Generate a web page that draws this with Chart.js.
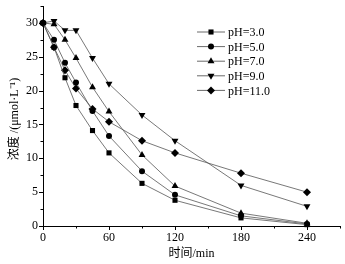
<!DOCTYPE html>
<html>
<head>
<meta charset="utf-8">
<script src="https://cdn.jsdelivr.net/npm/chart.js@4"></script>
<style>
  html, body { margin: 0; padding: 0; background: #fff; }
  #wrap { width: 345px; height: 264px; }
</style>
</head>
<body>
<div id="wrap"><canvas id="pHChart" width="345" height="264"></canvas></div>
<script>
const times = [0, 10, 20, 30, 45, 60, 90, 120, 180, 240];
const seriesNames = ["pH=3.0", "pH=5.0", "pH=7.0", "pH=9.0", "pH=11.0"];
const ph3 = [30, 26.4, 21.9, 17.8, 14.1, 10.8, 6.3, 3.8, 1.2, 0.2];
const ph5 = [30, 27.5, 24.1, 21.2, 17.0, 13.3, 8.1, 4.6, 1.5, 0.3];
const ph7 = [30, 29.8, 27.5, 24.8, 20.5, 16.9, 10.5, 5.9, 1.9, 0.4];
const ph9 = [30, 30.3, 28.9, 28.9, 24.8, 21.0, 16.4, 12.6, 6.0, 2.9];
const ph11 = [30, 26.4, 23.0, 20.3, 17.3, 15.4, 12.6, 10.8, 7.8, 5.0];
const xTicks = [0, 60, 120, 180, 240];
const yTicks = [0, 5, 10, 15, 20, 25, 30];

const serif = "'Liberation Serif', 'Noto Sans CJK SC', serif";
const markers = ["rect", "circle", "triangle", "triangle", "rectRot"];
const rotations = [0, 0, 0, 180, 0];
const sizes = [3.6, 3, 4, 4, 4];

function toPoints(values) {
    return times.map((t, i) => ({ x: t, y: values[i] }));
}

const allSeries = [ph3, ph5, ph7, ph9, ph11];

// ticks (major + minor) drawn outward, plus custom legend and y title
const decorations = {
    id: "decorations",
    afterDraw(chart) {
        const ctx = chart.ctx;
        const xs = chart.scales.x;
        const ys = chart.scales.y;
        const area = chart.chartArea;
        ctx.save();
        ctx.strokeStyle = "#000";
        ctx.lineWidth = 1;
        ctx.beginPath();
        for (let v = 0; v <= 270; v += 30) {
            const px = Math.round(xs.getPixelForValue(v)) + 0.5;
            const len = v % 60 === 0 ? 4 : 2.5;
            ctx.moveTo(px, area.bottom);
            ctx.lineTo(px, area.bottom + len);
        }
        for (let v = 0; v <= 32.5; v += 2.5) {
            const py = Math.round(ys.getPixelForValue(v)) + 0.5;
            const len = v % 5 === 0 ? 4 : 2.5;
            ctx.moveTo(area.left, py);
            ctx.lineTo(area.left - len, py);
        }
        ctx.stroke();

        // legend
        ctx.font = "12px " + serif;
        ctx.textBaseline = "middle";
        ctx.textAlign = "left";
        chart.data.datasets.forEach((ds, i) => {
            const y = 32 + i * 14.6;
            ctx.strokeStyle = "#444";
            ctx.lineWidth = 0.8;
            ctx.beginPath();
            ctx.moveTo(197, y);
            ctx.lineTo(225, y);
            ctx.stroke();
            ctx.fillStyle = "#000";
            Chart.helpers.drawPoint(ctx, {
                pointStyle: ds.pointStyle,
                radius: ds.pointRadius,
                rotation: ds.pointRotation,
                borderWidth: 0
            }, 211, y);
            ctx.fillText(ds.label, 228, y + 1);
        });

        // y axis title
        ctx.translate(15, 119);
        ctx.rotate(-Math.PI / 2);
        ctx.textAlign = "center";
        ctx.fillStyle = "#000";
        ctx.font = "12px " + serif;
        ctx.fillText("浓度 /(μmol·L⁻¹)", 0, 0);
        ctx.restore();
    }
};

const ctx = document.getElementById("pHChart").getContext("2d");
window.pHChart = new Chart(ctx, {
    type: "line",
    data: {
        datasets: allSeries.map((vals, i) => ({
            label: seriesNames[i],
            data: toPoints(vals),
            borderColor: "#555",
            borderWidth: 0.8,
            backgroundColor: "#000",
            pointBackgroundColor: "#000",
            pointBorderColor: "#000",
            pointBorderWidth: 0,
            pointStyle: markers[i],
            pointRotation: rotations[i],
            pointRadius: sizes[i],
            pointHoverRadius: sizes[i],
            tension: 0,
            clip: false
        }))
    },
    options: {
        responsive: false,
        animation: false,
        events: [],
        layout: { padding: { top: 6, right: 5, left: 0, bottom: 0 } },
        plugins: {
            legend: { display: false },
            tooltip: { enabled: false }
        },
        scales: {
            x: {
                type: "linear",
                min: 0,
                max: 270,
                afterBuildTicks: scale => { scale.ticks = xTicks.map(v => ({ value: v })); },
                afterFit: scale => {
                    scale.height = 38;
                    scale.paddingLeft = 0;
                    scale.paddingRight = 0;
                },
                grid: { display: false, drawTicks: false, tickLength: 0 },
                border: { display: true, color: "#000", width: 1 },
                ticks: {
                    color: "#000",
                    font: { family: serif, size: 12 },
                    padding: 5,
                    maxRotation: 0
                },
                title: {
                    display: true,
                    text: "时间/min",
                    color: "#000",
                    font: { family: serif, size: 12 },
                    padding: { top: 0, bottom: 3 }
                }
            },
            y: {
                type: "linear",
                min: 0,
                max: 32.5,
                afterBuildTicks: scale => { scale.ticks = yTicks.map(v => ({ value: v })); },
                afterFit: scale => {
                    scale.width = 43;
                    scale.paddingTop = 0;
                    scale.paddingBottom = 0;
                },
                grid: { display: false, drawTicks: false, tickLength: 0 },
                border: { display: true, color: "#000", width: 1 },
                ticks: {
                    color: "#000",
                    font: { family: serif, size: 12 },
                    padding: 5
                }
            }
        }
    },
    plugins: [decorations]
});
</script>
</body>
</html>
